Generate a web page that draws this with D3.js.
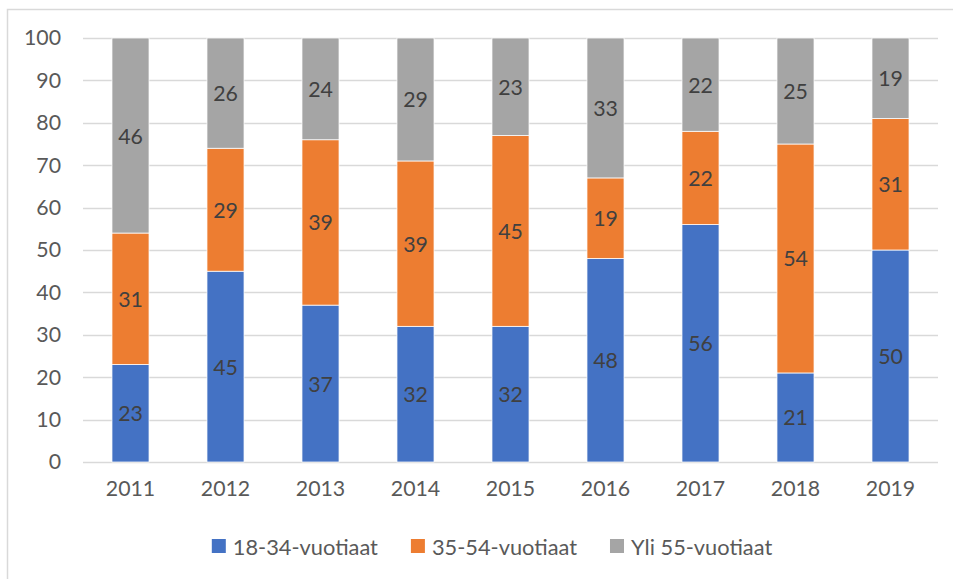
<!DOCTYPE html>
<html>
<head>
<meta charset="utf-8">
<script src="https://cdn.jsdelivr.net/npm/d3@7"></script>
<style>
  body { margin: 0; background: #fff; }
  svg { display: block; font-family: Lato, "Open Sans", sans-serif; }
</style>
</head>
<body>
<div id="chart"></div>
<script>
var years = ["2011", "2012", "2013", "2014", "2015", "2016", "2017", "2018", "2019"];
var seriesNames = ["18-34-vuotiaat", "35-54-vuotiaat", "Yli 55-vuotiaat"];
var young = [23, 45, 37, 32, 32, 48, 56, 21, 50];
var middle = [31, 29, 39, 39, 45, 19, 22, 54, 31];
var older = [46, 26, 24, 29, 23, 33, 22, 25, 19];
var yTicks = [0, 10, 20, 30, 40, 50, 60, 70, 80, 90, 100];
var colors = ["#4472C4", "#ED7D31", "#A5A5A5"];

var width = 953, height = 579;
var fontSize = 21.3;

var svg = d3.select("#chart").append("svg")
    .attr("width", width)
    .attr("height", height);

// outer chart border
svg.append("rect")
    .attr("x", 7.5).attr("y", 9.5)
    .attr("width", 960).attr("height", 600)
    .attr("fill", "none")
    .attr("stroke", "#D9D9D9")
    .attr("stroke-width", 1.5);

var x = d3.scaleBand().domain(years).range([83, 938])
    .paddingInner(0.61).paddingOuter(0.305);
var y = d3.scaleLinear().domain([0, 100]).range([462, 38]);

// gridlines
svg.append("g").selectAll("line")
    .data(yTicks)
    .enter().append("line")
    .attr("x1", 83).attr("x2", 938)
    .attr("y1", function (d) { return Math.round(y(d)) + 0.5; })
    .attr("y2", function (d) { return Math.round(y(d)) + 0.5; })
    .attr("stroke", "#D9D9D9")
    .attr("stroke-width", 1.5);

// y axis labels
var yAxis = d3.axisLeft(y).tickValues(yTicks).tickSize(0).tickPadding(0);
var yg = svg.append("g").attr("transform", "translate(61,0)").call(yAxis);
yg.select(".domain").remove();
yg.selectAll("text")
    .attr("font-family", "Lato, 'Open Sans', sans-serif")
    .attr("font-size", fontSize)
    .attr("fill", "#595959");

// x axis labels
var xAxis = d3.axisBottom(x).tickSize(0).tickPadding(0);
var xg = svg.append("g").attr("transform", "translate(0,481)").call(xAxis);
xg.select(".domain").remove();
xg.selectAll("text")
    .attr("font-family", "Lato, 'Open Sans', sans-serif")
    .attr("font-size", fontSize)
    .attr("fill", "#595959");

// stack the data
var rows = years.map(function (yr, i) {
    return { year: yr, a: young[i], b: middle[i], c: older[i] };
});
var stacked = d3.stack().keys(["a", "b", "c"])(rows);

var layers = svg.append("g").selectAll("g")
    .data(stacked)
    .enter().append("g")
    .attr("fill", function (d, i) { return colors[i]; });

layers.selectAll("rect")
    .data(function (d) { return d; })
    .enter().append("rect")
    .attr("x", function (d) { return x(d.data.year); })
    .attr("width", x.bandwidth())
    .attr("y", function (d) { return y(d[1]); })
    .attr("height", function (d) { return y(d[0]) - y(d[1]); })
    .attr("stroke", "#fff")
    .attr("stroke-width", 0.75);

// value labels in the middle of each segment
layers.selectAll("text")
    .data(function (d) { return d; })
    .enter().append("text")
    .attr("x", function (d) { return x(d.data.year) + x.bandwidth() / 2; })
    .attr("y", function (d) { return y((d[0] + d[1]) / 2); })
    .attr("text-anchor", "middle")
    .attr("dominant-baseline", "central")
    .attr("font-size", fontSize)
    .attr("fill", "#404040")
    .text(function (d) { return d[1] - d[0]; });

// legend
var legend = svg.append("g");
var items = legend.selectAll("g")
    .data(seriesNames)
    .enter().append("g");
items.append("rect")
    .attr("width", 14).attr("height", 14)
    .attr("y", 539)
    .attr("fill", function (d, i) { return colors[i]; });
items.append("text")
    .attr("x", 21)
    .attr("y", 546)
    .attr("dominant-baseline", "central")
    .attr("font-size", fontSize + 0.5)
    .attr("fill", "#595959")
    .text(function (d) { return d; });

var pos = 0, starts = [];
items.each(function () {
    starts.push(pos);
    pos += 21 + d3.select(this).select("text").node().getComputedTextLength() + 33;
});
var total = pos - 33;
var left = 492 - total / 2;
items.attr("transform", function (d, i) { return "translate(" + (left + starts[i]) + ",0)"; });
</script>
</body>
</html>
